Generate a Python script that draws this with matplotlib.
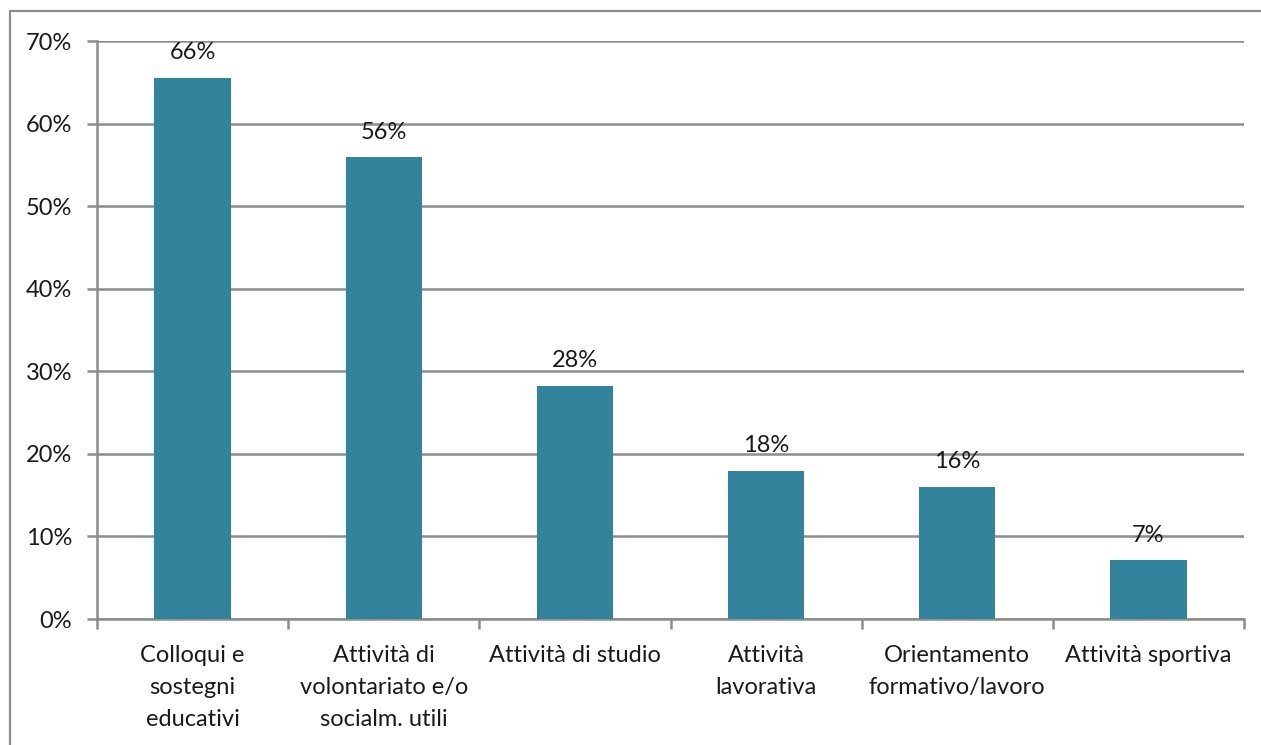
import numpy as np
import matplotlib.pyplot as plt
from matplotlib.patches import Rectangle

categories = ["Colloqui e\nsostegni\neducativi",
              "Attività di\nvolontariato e/o\nsocialm. utili",
              "Attività di studio",
              "Attività\nlavorativa",
              "Orientamento\nformativo/lavoro",
              "Attività sportiva"]
values = [65.5, 55.9, 28.2, 17.9, 16.0, 7.1]
yticks = [0, 10, 20, 30, 40, 50, 60, 70]

plt.rcParams['font.family'] = ['Lato', 'DejaVu Sans']
grey = "#8c8c8c"
teal = "#31849B"
txt = "#1a1a1a"
fs = 17

W, H = 1261, 745
fig = plt.figure(figsize=(W / 100, H / 100), dpi=100)
ax = fig.add_axes([97 / W, 1 - 619 / H, (1244 - 97) / W, (619 - 41) / H])

# chart frame (partly cropped in the reference)
fig.patches.append(Rectangle((10 / W, -0.1), 1.2, 1 - 11 / H + 0.1,
                             transform=fig.transFigure, fill=False,
                             edgecolor=grey, linewidth=1.6))

x = np.arange(len(categories))
ax.bar(x, values, width=0.4, color=teal, zorder=3)
for xi, v in zip(x, values):
    ax.text(xi, v + 1.8, f"{v:.0f}%", ha="center", va="bottom", fontsize=fs, color=txt)

ax.set_xlim(-0.5, len(categories) - 0.5)
ax.set_ylim(0, 70)
ax.set_yticks(yticks)
ax.set_yticklabels([f"{t}%" for t in yticks], fontsize=fs, color=txt)
ax.yaxis.grid(True, color=grey, linewidth=1.8, zorder=0)

ax.set_xticks(x)
ax.set_xticklabels(categories, fontsize=fs, color=txt, linespacing=1.65)
ax.set_xticks(np.arange(-0.5, len(categories)), minor=True)
ax.tick_params(axis="x", which="major", length=0, pad=19)
ax.tick_params(axis="x", which="minor", length=7, width=1.8, color=grey)
ax.tick_params(axis="y", length=7, width=1.8, color=grey, pad=11)

for s in ["top", "right"]:
    ax.spines[s].set_visible(False)
for s in ["left", "bottom"]:
    ax.spines[s].set_color(grey)
    ax.spines[s].set_linewidth(1.8)

fig.savefig("out.png", dpi=100)
